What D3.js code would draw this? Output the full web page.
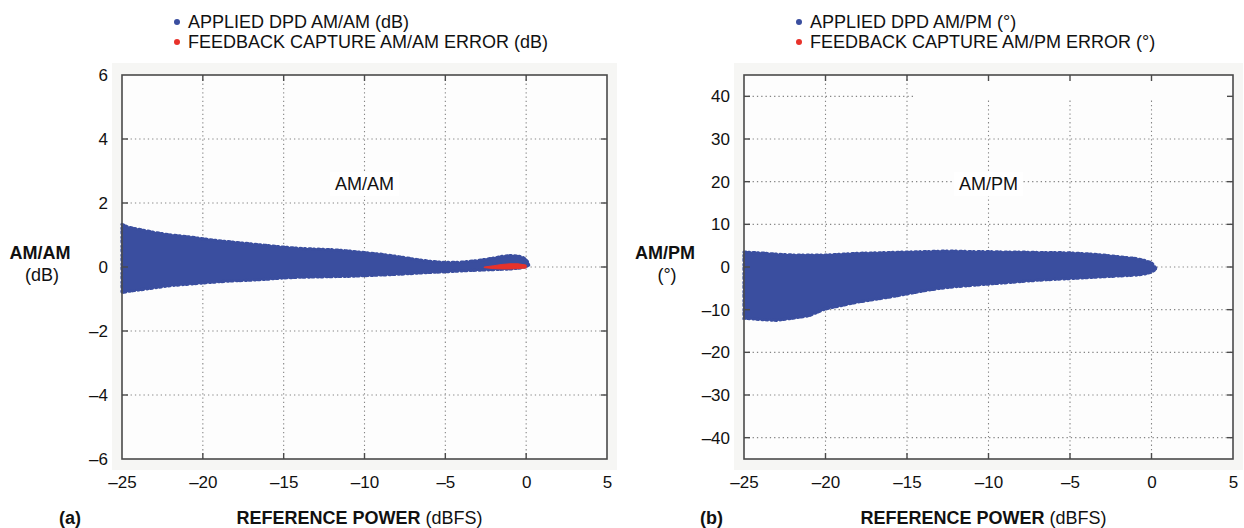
<!DOCTYPE html>
<html>
<head>
<meta charset="utf-8">
<script src="https://cdn.jsdelivr.net/npm/d3@7"></script>
<style>
  html, body { margin: 0; padding: 0; background: #ffffff; }
  svg { display: block; font-family: "Liberation Sans", Arial, Helvetica, sans-serif; }
</style>
</head>
<body>
<svg id="chart" width="1244" height="528"></svg>
<script>
// ---------- data ----------
const xTicks = [-25, -20, -15, -10, -5, 0, 5];
const amTicks = [-6, -4, -2, 0, 2, 4, 6];
const pmTicks = [-40, -30, -20, -10, 0, 10, 20, 30, 40];

// AM/AM applied DPD cloud envelope (dB)
const amX     = [-25, -24.6, -24, -23, -22, -21, -20, -19, -18, -17, -16, -15, -14, -13, -12, -11, -10, -9, -8, -7, -6, -5, -4, -3, -2, -1.5, -1, -0.5, -0.2, 0, 0.15];
const amUpper = [1.33, 1.24, 1.18, 1.08, 1.0, 0.95, 0.88, 0.82, 0.77, 0.72, 0.67, 0.62, 0.58, 0.56, 0.54, 0.5, 0.45, 0.4, 0.33, 0.25, 0.18, 0.14, 0.15, 0.2, 0.28, 0.33, 0.36, 0.34, 0.3, 0.22, 0.12];
const amLower = [-0.8, -0.76, -0.72, -0.65, -0.58, -0.54, -0.5, -0.46, -0.43, -0.41, -0.38, -0.34, -0.32, -0.31, -0.3, -0.29, -0.27, -0.25, -0.23, -0.2, -0.17, -0.15, -0.12, -0.1, -0.08, -0.07, -0.06, -0.04, -0.02, 0.02, 0.06];

// AM/AM feedback capture error (dB)
const errX     = [-2.6, -2, -1.5, -1, -0.5, 0];
const errUpper = [0.0, 0.04, 0.08, 0.1, 0.1, 0.06];
const errLower = [-0.02, -0.05, -0.06, -0.06, -0.05, -0.03];

// AM/PM applied DPD cloud envelope (deg)
const pmX     = [-25, -24, -23, -22, -21, -20, -19, -18, -17, -16, -15, -14, -13, -12, -11, -10, -9, -8, -7, -6, -5, -4, -3, -2, -1, -0.5, 0, 0.25];
const pmUpper = [3.5, 3.3, 3.0, 2.8, 2.8, 2.8, 3.0, 3.2, 3.3, 3.4, 3.5, 3.6, 3.7, 3.7, 3.6, 3.6, 3.5, 3.5, 3.4, 3.4, 3.3, 3.1, 2.8, 2.4, 2.0, 1.6, 1.0, -0.2];
const pmLower = [-12.0, -12.3, -12.5, -12.0, -11.4, -9.8, -9.0, -8.2, -7.6, -7.0, -6.3, -5.6, -5.0, -4.6, -4.3, -4.0, -3.7, -3.4, -3.1, -2.9, -2.7, -2.5, -2.3, -2.1, -1.9, -1.7, -1.2, -0.6];

const legendA = ["APPLIED DPD AM/AM (dB)", "FEEDBACK CAPTURE AM/AM ERROR (dB)"];
const legendB = ["APPLIED DPD AM/PM (°)", "FEEDBACK CAPTURE AM/PM ERROR (°)"];
const colors = ["#3a4e9f", "#e8322b"];

// ---------- drawing ----------
const svg = d3.select("#chart");
const fmt = d => d < 0 ? "\u2013" + Math.abs(d) : String(d);
const FONT_TICK = 17, FONT = 18;

function panel(opts) {
  const { x0, x1, yDomain, yTicks, cloud, err, legend, yTitle, yUnit, inner, innerAt, tag, tagX, ytx, gridQuirk } = opts;
  const x = d3.scaleLinear().domain([-25, 5]).range([x0, x1]);
  const y = d3.scaleLinear().domain(yDomain).range([459, 75]);
  const g = svg.append("g");

  // background
  g.append("rect").attr("x", x0 - 10).attr("y", 63).attr("width", x1 - x0 + 20).attr("height", 407)
    .attr("fill", "#f6f6f4");
  g.append("rect").attr("x", x0).attr("y", y.range()[1]).attr("width", x1 - x0).attr("height", y.range()[0] - y.range()[1])
    .attr("fill", "#fdfdfd");

  // grid
  const grid = g.append("g").attr("stroke", "#858585").attr("stroke-width", 1.1).attr("stroke-dasharray", "1.3,3");
  xTicks.slice(1, -1).forEach(t => {
    const top = gridQuirk && t >= gridQuirk.vFrom ? y(gridQuirk.vTop) : y(yDomain[1]);
    grid.append("line").attr("x1", x(t)).attr("x2", x(t)).attr("y1", top).attr("y2", y(yDomain[0]));
  });
  yTicks.filter(t => t > yDomain[0] && t < yDomain[1]).forEach(t => {
    const right = gridQuirk && t === gridQuirk.hVal ? x(gridQuirk.hTo) : x(5);
    grid.append("line").attr("x1", x(-25)).attr("x2", right).attr("y1", y(t)).attr("y2", y(t));
  });

  // inner label
  const lab = g.append("g");
  const lt = lab.append("text").attr("x", x(innerAt[0])).attr("y", y(innerAt[1]))
    .attr("text-anchor", "middle").attr("font-size", FONT).attr("fill", "#111").text(inner);
  const bb = lt.node().getBBox();
  lab.insert("rect", "text").attr("x", bb.x - 5).attr("y", bb.y - 2).attr("width", bb.width + 10).attr("height", bb.height + 4)
    .attr("fill", "#ffffff");

  // cloud
  const area = d3.area().x(d => x(d[0])).y0(d => y(d[2])).y1(d => y(d[1])).curve(d3.curveLinear);
  const cd = cloud[0].map((v, i) => [v, cloud[1][i], cloud[2][i]]);
  g.append("path").datum(cd).attr("d", area).attr("fill", colors[0])
    .attr("stroke", colors[0]).attr("stroke-width", 1.5).attr("stroke-linejoin", "round");
  // rough scattered edge
  g.append("path").datum(cd).attr("d", area).attr("fill", "none")
    .attr("stroke", colors[0]).attr("stroke-width", 3.2).attr("stroke-dasharray", "2,2.5,1,3.5")
    .attr("stroke-linecap", "round");
  if (err) {
    const ed = err[0].map((v, i) => [v, err[1][i], err[2][i]]);
    g.append("path").datum(ed).attr("d", area).attr("fill", colors[1])
      .attr("stroke", colors[1]).attr("stroke-width", 1).attr("stroke-linejoin", "round");
  }

  // frame + inner ticks
  g.append("rect").attr("x", x0).attr("y", y(yDomain[1])).attr("width", x1 - x0).attr("height", y(yDomain[0]) - y(yDomain[1]))
    .attr("fill", "none").attr("stroke", "#4a4a4a").attr("stroke-width", 1.6);
  const tk = g.append("g").attr("stroke", "#4a4a4a").attr("stroke-width", 1.4);
  xTicks.slice(1, -1).forEach(t => {
    tk.append("line").attr("x1", x(t)).attr("x2", x(t)).attr("y1", y(yDomain[0])).attr("y2", y(yDomain[0]) - 6);
    tk.append("line").attr("x1", x(t)).attr("x2", x(t)).attr("y1", y(yDomain[1])).attr("y2", y(yDomain[1]) + 6);
  });
  yTicks.filter(t => t > yDomain[0] && t < yDomain[1]).forEach(t => {
    tk.append("line").attr("x1", x0).attr("x2", x0 + 6).attr("y1", y(t)).attr("y2", y(t));
    tk.append("line").attr("x1", x1).attr("x2", x1 - 6).attr("y1", y(t)).attr("y2", y(t));
  });

  // axes (labels only)
  const ax = g.append("g").attr("transform", `translate(0,${y(yDomain[0])})`)
    .call(d3.axisBottom(x).tickValues(xTicks).tickFormat(fmt).tickSize(0).tickPadding(17));
  const ay = g.append("g").attr("transform", `translate(${x0},0)`)
    .call(d3.axisLeft(y).tickValues(yTicks).tickFormat(fmt).tickSize(0).tickPadding(14));
  [ax, ay].forEach(a => {
    a.select(".domain").remove();
    a.selectAll("text").attr("font-size", FONT_TICK).attr("fill", "#111")
      .attr("font-family", "Liberation Sans, Arial, sans-serif");
  });

  // y title
  g.append("text").attr("x", ytx).attr("y", 259).attr("text-anchor", "middle").attr("font-size", FONT)
    .attr("font-weight", "bold").attr("fill", "#111").text(yTitle);
  g.append("text").attr("x", ytx + 2).attr("y", 281).attr("text-anchor", "middle").attr("font-size", FONT)
    .attr("fill", "#111").text(yUnit);

  // x title
  const xt = g.append("text").attr("x", (x0 + x1) / 2 - 5).attr("y", 524).attr("text-anchor", "middle")
    .attr("font-size", FONT).attr("fill", "#111");
  xt.append("tspan").attr("font-weight", "bold").text("REFERENCE POWER");
  xt.append("tspan").text(" (dBFS)");
  g.append("text").attr("x", tagX).attr("y", 524).attr("font-size", FONT).attr("font-weight", "bold")
    .attr("fill", "#111").text(tag);

  // legend
  const lg = g.append("g").attr("transform", `translate(${x0 + 55},0)`);
  legend.forEach((t, i) => {
    lg.append("circle").attr("cx", 0).attr("cy", 22 + i * 20).attr("r", 3).attr("fill", colors[i]);
    lg.append("text").attr("x", 11).attr("y", 28 + i * 20).attr("font-size", FONT).attr("fill", "#111").text(t);
  });
}

panel({
  x0: 122, x1: 607, yDomain: [-6, 6], yTicks: amTicks,
  cloud: [amX, amUpper, amLower], err: [errX, errUpper, errLower],
  legend: legendA, yTitle: "AM/AM", yUnit: "(dB)", inner: "AM/AM", innerAt: [-10, 2.4],
  tag: "(a)", tagX: 59, ytx: 40, gridQuirk: null
});
panel({
  x0: 744, x1: 1233, yDomain: [-45, 45], yTicks: pmTicks,
  cloud: [pmX, pmUpper, pmLower], err: null,
  legend: legendB, yTitle: "AM/PM", yUnit: "(°)", inner: "AM/PM", innerAt: [-10, 18],
  tag: "(b)", tagX: 700, ytx: 665, gridQuirk: { vFrom: -10, vTop: 39, hVal: 40, hTo: -14.5 }
});
</script>
</body>
</html>
